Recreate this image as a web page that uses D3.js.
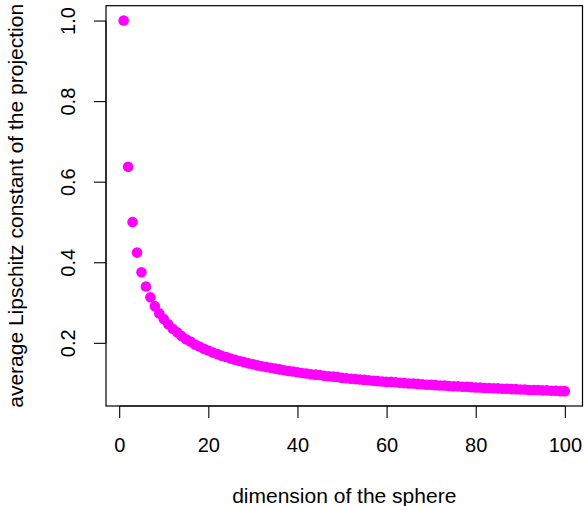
<!DOCTYPE html>
<html>
<head>
<meta charset="utf-8">
<script src="https://cdn.jsdelivr.net/npm/d3@7"></script>
<style>
  html, body { margin: 0; padding: 0; background: #fff; }
  svg { display: block; }
  text { font-family: "Liberation Sans", Arial, Helvetica, sans-serif; fill: #000; }
</style>
</head>
<body>
<svg id="chart" width="588" height="506"></svg>
<script>
// Dimension of the sphere (1..100)
const dimensions = [
  1,2,3,4,5,6,7,8,9,10,11,12,13,14,15,16,17,18,19,20,
  21,22,23,24,25,26,27,28,29,30,31,32,33,34,35,36,37,38,39,40,
  41,42,43,44,45,46,47,48,49,50,51,52,53,54,55,56,57,58,59,60,
  61,62,63,64,65,66,67,68,69,70,71,72,73,74,75,76,77,78,79,80,
  81,82,83,84,85,86,87,88,89,90,91,92,93,94,95,96,97,98,99,100
];
// Average Lipschitz constant of the projection
const lipschitz = [
  1.000,0.637,0.500,0.424,0.375,0.340,0.313,0.291,0.273,0.259,
  0.246,0.235,0.226,0.217,0.209,0.203,0.196,0.191,0.185,0.181,
  0.176,0.172,0.168,0.165,0.161,0.158,0.155,0.152,0.149,0.147,
  0.144,0.142,0.140,0.138,0.136,0.134,0.132,0.130,0.129,0.127,
  0.125,0.124,0.122,0.121,0.120,0.118,0.117,0.116,0.115,0.113,
  0.112,0.111,0.110,0.109,0.108,0.107,0.106,0.105,0.104,0.103,
  0.103,0.102,0.101,0.100,0.099,0.099,0.098,0.097,0.096,0.096,
  0.095,0.094,0.094,0.093,0.092,0.092,0.091,0.091,0.090,0.089,
  0.089,0.088,0.088,0.087,0.087,0.086,0.086,0.085,0.085,0.084,
  0.084,0.083,0.083,0.083,0.082,0.082,0.081,0.081,0.080,0.080
];
const xTicks = [0, 20, 40, 60, 80, 100];
const yTicks = [0.2, 0.4, 0.6, 0.8, 1.0];
const xTitle = "dimension of the sphere";
const yTitle = "average Lipschitz constant of the projection";

const box = { left: 106, right: 582.5, top: 5.7, bottom: 406 };

// R-style 4% range extension
const xmin = d3.min(dimensions), xmax = d3.max(dimensions);
const ymin = d3.min(lipschitz), ymax = d3.max(lipschitz);
const xpad = (xmax - xmin) * 0.04, ypad = (ymax - ymin) * 0.04;

const x = d3.scaleLinear().domain([xmin - xpad, xmax + xpad]).range([box.left, box.right]);
const y = d3.scaleLinear().domain([ymin - ypad, ymax + ypad]).range([box.bottom, box.top]);

const svg = d3.select("#chart");

// Points
svg.append("g")
  .selectAll("circle")
  .data(dimensions.map((d, i) => [d, lipschitz[i]]))
  .join("circle")
  .attr("cx", d => x(d[0]))
  .attr("cy", d => y(d[1]))
  .attr("r", 5.3)
  .attr("fill", "#ff00ff");

// Box
svg.append("rect")
  .attr("x", box.left).attr("y", box.top)
  .attr("width", box.right - box.left).attr("height", box.bottom - box.top)
  .attr("fill", "none").attr("stroke", "#000").attr("stroke-width", 1.2);

// X axis
const xAxis = d3.axisBottom(x).tickValues(xTicks).tickSize(12).tickPadding(0).tickFormat(d3.format("d"));
const gx = svg.append("g").attr("transform", `translate(0,${box.bottom})`).call(xAxis);
gx.select(".domain").attr("d", `M${x(xTicks[0])},0H${x(xTicks[xTicks.length-1])}`).attr("stroke", "#000");
gx.selectAll(".tick line").attr("stroke", "#000").attr("stroke-width", 1.1);
gx.selectAll(".tick text")
  .attr("y", 45.5).attr("dy", null)
  .style("font-size", "20px")
  .style("font-family", "'Liberation Sans', Arial, Helvetica, sans-serif")
  .attr("fill", "#000");

// Y axis
const yAxis = d3.axisLeft(y).tickValues(yTicks).tickSize(12).tickFormat(d3.format(".1f"));
const gy = svg.append("g").attr("transform", `translate(${box.left},0)`).call(yAxis);
gy.select(".domain").attr("d", `M0,${y(yTicks[0])}V${y(yTicks[yTicks.length-1])}`).attr("stroke", "#000");
gy.selectAll(".tick line").attr("stroke", "#000").attr("stroke-width", 1.1);
gy.selectAll(".tick text")
  .attr("x", null).attr("dy", null)
  .attr("text-anchor", "middle")
  .attr("transform", "translate(-31,0) rotate(-90)")
  .style("font-size", "20px")
  .style("font-family", "'Liberation Sans', Arial, Helvetica, sans-serif")
  .attr("fill", "#000");

// Titles
svg.append("text")
  .attr("x", (box.left + box.right) / 2)
  .attr("y", 503)
  .attr("text-anchor", "middle")
  .style("font-size", "21px")
  .text(xTitle);

svg.append("text")
  .attr("transform", `translate(22.5,${(box.top + box.bottom) / 2}) rotate(-90)`)
  .attr("text-anchor", "middle")
  .style("font-size", "21px")
  .text(yTitle);
</script>
</body>
</html>
